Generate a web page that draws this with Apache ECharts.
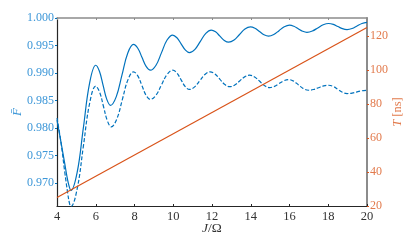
<!DOCTYPE html>
<html><head><meta charset="utf-8">
<script src="https://cdn.jsdelivr.net/npm/echarts@6/dist/echarts.min.js"></script>
<style>html,body{margin:0;padding:0;background:#fff}#c{width:415px;height:249px}</style>
</head><body><div id="c"></div>
<script>
// J/Omega and fidelity (solid)
var jSolid = [4.00,4.20,4.40,4.55,4.65,4.72,5.04,5.36,5.68,6.00,6.19,6.38,6.57,6.76,7.06,7.355,7.65,7.95,8.17,8.385,8.60,8.82,9.11,9.395,9.68,9.97,10.19,10.405,10.62,10.84,11.12,11.40,11.68,11.96,12.185,12.41,12.635,12.86,13.14,13.42,13.70,13.98,14.215,14.45,14.685,14.92,15.19,15.46,15.73,16.00,16.225,16.45,16.675,16.90,17.18,17.46,17.74,18.02,18.26,18.495,18.73,18.97,19.23,19.485,19.74,20.00];
var fSolid = [0.9814,0.9775,0.9735,0.9705,0.9691,0.9686,0.9719,0.9800,0.9881,0.9914,0.9903,0.98775,0.9852,0.9841,0.9857,0.98965,0.9936,0.9952,0.9945,0.99285,0.9912,0.9905,0.9914,0.9937,0.9960,0.9969,0.9964,0.9953,0.9942,0.9937,0.9943,0.99575,0.9972,0.9978,0.99748,0.9967,0.99592,0.9956,0.9960,0.9970,0.9980,0.9984,0.99815,0.99755,0.99695,0.9967,0.9970,0.9977,0.9984,0.9987,0.9985,0.99805,0.9976,0.9974,0.99763,0.9982,0.99877,0.9990,0.99884,0.99845,0.99806,0.9979,0.99809,0.99855,0.9990,0.9992];
// fidelity (dashed)
var jDashed = [4.00,4.20,4.40,4.55,4.65,4.72,5.04,5.36,5.68,6.00,6.20,6.40,6.60,6.80,7.09,7.375,7.66,7.95,8.17,8.385,8.60,8.82,9.11,9.395,9.68,9.97,10.19,10.405,10.62,10.84,11.105,11.37,11.635,11.90,12.155,12.41,12.665,12.92,13.175,13.43,13.685,13.94,14.20,14.46,14.72,14.98,15.22,15.465,15.71,15.95,16.21,16.465,16.72,16.98,17.24,17.50,17.76,18.02,18.26,18.495,18.73,18.97,19.23,19.49,19.75,20.00];
var fDashed = [0.9818,0.9775,0.9720,0.9682,0.9662,0.9657,0.9689,0.97665,0.9844,0.9876,0.9865,0.9839,0.9813,0.9802,0.98166,0.9852,0.98874,0.9902,0.98947,0.9877,0.98593,0.9852,0.98597,0.98785,0.98973,0.9905,0.98999,0.98875,0.98751,0.9870,0.98747,0.9886,0.98973,0.9902,0.98981,0.98885,0.98789,0.9875,0.98781,0.98855,0.98929,0.9896,0.98927,0.98848,0.98768,0.98735,0.98756,0.98808,0.98859,0.9888,0.98852,0.98783,0.98714,0.98686,0.98699,0.98732,0.98764,0.98777,0.98755,0.98702,0.98648,0.98626,0.98634,0.98656,0.98677,0.98686];
// duration T [ns]
var jT = [4, 20];
var tValues = [25, 125];
var xTicks = [4,6,8,10,12,14,16,18,20];
var fTicks = [0.970,0.975,0.980,0.985,0.990,0.995,1.000];
var tTicks = [20,40,60,80,100,120];

function pairs(a,b){return a.map(function(v,i){return [v,b[i]];});}
var blue = '#0072BD', orange = '#D95319';
var blueTxt = '#3d97d8', orangeTxt = '#e27a4c';
var serif = '"Liberation Serif", "DejaVu Serif", serif';
var chart = echarts.init(document.getElementById('c'), null, {renderer:'canvas'});
chart.setOption({
  animation:false,
  backgroundColor:'#fff',
  grid:{left:57, right:48, top:18, bottom:43, containLabel:false, outerBoundsMode:'none'},
  xAxis:[{
    type:'value', min:4, max:20, position:'bottom',
    name:'{i|J}/Ω', nameLocation:'middle', nameGap:15, nameMoveOverlap:false,
    nameTextStyle:{fontFamily:serif, fontSize:13.5, color:'#333', rich:{i:{fontStyle:'italic', fontFamily:serif, fontSize:13.5, color:'#333'}}},
    axisLine:{lineStyle:{color:'#262626', width:1.2}},
    axisTick:{inside:true, length:2, customValues:xTicks, lineStyle:{color:'#262626'}},
    axisLabel:{customValues:xTicks, fontFamily:serif, fontSize:12.5, color:'#333', margin:4},
    splitLine:{show:false}
  },{
    type:'value', min:4, max:20, position:'top',
    axisLine:{lineStyle:{color:'#8c8c8c', width:1.5}},
    axisTick:{inside:true, length:2, customValues:xTicks, lineStyle:{color:'#8c8c8c'}},
    axisLabel:{show:false}, splitLine:{show:false}
  }],
  yAxis:[{
    type:'value', min:0.9658, max:1.0, position:'left',
    name:'{i|F̄}', nameLocation:'middle', nameGap:33, nameRotate:90, nameMoveOverlap:false,
    nameTextStyle:{color:blueTxt, fontFamily:serif, fontSize:13, rich:{i:{fontStyle:'italic', fontFamily:serif, fontSize:13, color:blueTxt}}},
    axisLine:{show:true, lineStyle:{color:'#262626', width:1.2}},
    axisTick:{show:true, inside:false, length:2, customValues:fTicks, lineStyle:{color:blue}},
    axisLabel:{customValues:fTicks, color:blueTxt, fontFamily:serif, fontSize:12, margin:3,
      formatter:function(v){return v.toFixed(3);}},
    splitLine:{show:false}
  },{
    type:'value', min:20, max:130.6, position:'right',
    name:'{i|T} [ns]', nameLocation:'middle', nameGap:24, nameRotate:90, nameMoveOverlap:false,
    nameTextStyle:{color:orangeTxt, fontFamily:serif, fontSize:12.5, rich:{i:{fontStyle:'italic', fontFamily:serif, fontSize:12.5, color:orangeTxt}}},
    axisLine:{show:true, lineStyle:{color:'#8c8c8c', width:2}},
    axisTick:{show:true, inside:false, length:2, customValues:tTicks, lineStyle:{color:orange}},
    axisLabel:{customValues:tTicks, color:orangeTxt, fontFamily:serif, fontSize:12, margin:3},
    splitLine:{show:false}
  }],
  series:[
    {type:'line', xAxisIndex:0, yAxisIndex:0, data:pairs(jSolid,fSolid), smooth:0.4, showSymbol:false,
     lineStyle:{color:blue, width:1.2}},
    {type:'line', xAxisIndex:0, yAxisIndex:0, data:pairs(jDashed,fDashed), smooth:0.4, showSymbol:false,
     lineStyle:{color:blue, width:1.2, type:[4,2]}},
    {type:'line', xAxisIndex:0, yAxisIndex:1, data:pairs(jT,tValues), showSymbol:false,
     lineStyle:{color:orange, width:1.2}}
  ]
});
</script></body></html>
